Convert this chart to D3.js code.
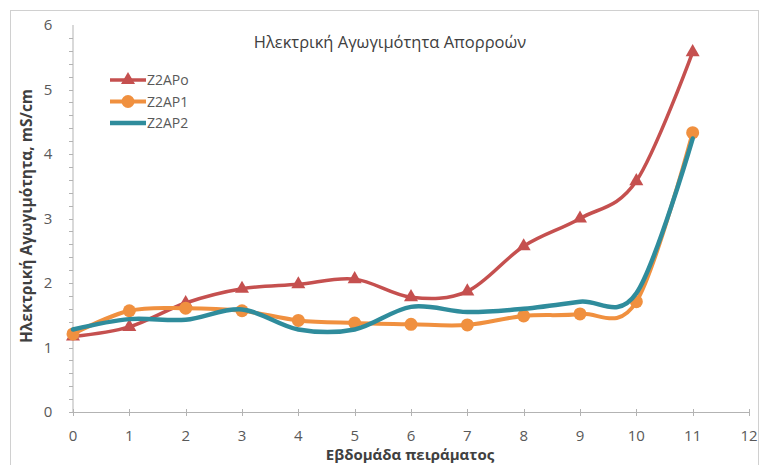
<!DOCTYPE html>
<html>
<head>
<meta charset="utf-8">
<script src="https://cdn.jsdelivr.net/npm/d3@7"></script>
<style>
  html, body { margin: 0; padding: 0; background: #fff; }
  svg { display: block; }
  text { font-family: "Open Sans", "Noto Sans", sans-serif; }
</style>
</head>
<body>
<svg id="chart" width="763" height="465"></svg>
<script>
// Weekly runoff electrical conductivity (mS/cm)
const weeks = [0, 1, 2, 3, 4, 5, 6, 7, 8, 9, 10, 11];
const z2apo = [1.17, 1.32, 1.69, 1.91, 1.98, 2.06, 1.78, 1.87, 2.57, 3.00, 3.58, 5.58];
const z2ap1 = [1.21, 1.57, 1.61, 1.57, 1.42, 1.38, 1.36, 1.35, 1.49, 1.52, 1.71, 4.33];
const z2ap2 = [1.28, 1.44, 1.43, 1.59, 1.28, 1.28, 1.63, 1.55, 1.60, 1.71, 1.84, 4.24];
const seriesNames = ["Z2APo", "Z2AP1", "Z2AP2"];
const xTicks = [0, 1, 2, 3, 4, 5, 6, 7, 8, 9, 10, 11, 12];
const yTicks = [0, 1, 2, 3, 4, 5, 6];

const title = "Ηλεκτρική Αγωγιμότητα Απορροών";
const xTitle = "Εβδομάδα πειράματος";
const yTitle = "Ηλεκτρική Αγωγιμότητα, mS/cm";

const svg = d3.select("#chart");
const plot = { left: 73, right: 749, top: 25, bottom: 412 };

const x = d3.scaleLinear().domain([0, 12]).range([plot.left, plot.right]);
const y = d3.scaleLinear().domain([0, 6]).range([plot.bottom, plot.top]);

const axisColor = "#b3b3b3";
const labelColor = "#595959";

// outer chart frame
svg.append("rect")
  .attr("x", 10.5).attr("y", 10.5)
  .attr("width", 748).attr("height", 470)
  .attr("fill", "#fff").attr("stroke", "#d0d0d0").attr("stroke-width", 1);

// y axis with minor ticks every 0.2
const yAxis = svg.append("g");
yAxis.append("line")
  .attr("x1", plot.left).attr("x2", plot.left)
  .attr("y1", y(6)).attr("y2", y(0))
  .attr("stroke", axisColor);
yAxis.selectAll("line.minor")
  .data(d3.range(0, 30).map(i => i * 0.2))
  .join("line").attr("class", "minor")
  .attr("x1", plot.left - 4).attr("x2", plot.left)
  .attr("y1", d => Math.round(y(d)) + 0.5).attr("y2", d => Math.round(y(d)) + 0.5)
  .attr("stroke", axisColor);
yAxis.selectAll("text")
  .data(yTicks)
  .join("text")
  .attr("x", 48)
  .attr("y", d => y(d))
  .attr("dy", "0.36em")
  .attr("text-anchor", "middle")
  .attr("font-size", 15)
  .attr("fill", labelColor)
  .text(d => d);

// x axis with crossing ticks
const xAxis = svg.append("g");
xAxis.append("line")
  .attr("x1", x(0)).attr("x2", x(12))
  .attr("y1", plot.bottom + 0.5).attr("y2", plot.bottom + 0.5)
  .attr("stroke", axisColor);
xAxis.selectAll("line.tick")
  .data(xTicks)
  .join("line").attr("class", "tick")
  .attr("x1", d => Math.round(x(d)) + 0.5).attr("x2", d => Math.round(x(d)) + 0.5)
  .attr("y1", plot.bottom - 3).attr("y2", plot.bottom + 4)
  .attr("stroke", axisColor);
xAxis.selectAll("text")
  .data(xTicks)
  .join("text")
  .attr("x", d => x(d))
  .attr("y", plot.bottom + 29)
  .attr("text-anchor", "middle")
  .attr("font-size", 15)
  .attr("fill", labelColor)
  .text(d => d);

// titles
svg.append("text")
  .attr("x", 390).attr("y", 48)
  .attr("text-anchor", "middle")
  .attr("font-size", 16.5)
  .attr("fill", "#404040")
  .text(title);
svg.append("text")
  .attr("x", 410).attr("y", 460)
  .attr("text-anchor", "middle")
  .attr("font-size", 15)
  .attr("font-weight", "bold")
  .attr("fill", "#404040")
  .text(xTitle);
svg.append("text")
  .attr("transform", "translate(32,216) rotate(-90)")
  .attr("text-anchor", "middle")
  .attr("font-size", 15.5)
  .attr("font-weight", "bold")
  .attr("fill", "#404040")
  .text(yTitle);

// series
const series = [
  { name: seriesNames[0], values: z2apo, color: "#c5504f", width: 3.5, marker: "triangle" },
  { name: seriesNames[1], values: z2ap1, color: "#f0903f", width: 4, marker: "circle" },
  { name: seriesNames[2], values: z2ap2, color: "#2f8c9c", width: 4.5, marker: "none" }
];

const line = d3.line()
  .x((d, i) => x(weeks[i]))
  .y(d => y(d))
  .curve(d3.curveCatmullRom.alpha(0));

const triangle = d3.symbol().type(d3.symbolTriangle).size(85);

function drawMarker(g, s, cx, cy) {
  if (s.marker === "triangle") {
    g.append("path")
      .attr("d", triangle())
      .attr("transform", `translate(${cx},${cy})`)
      .attr("fill", s.color);
  } else if (s.marker === "circle") {
    g.append("circle")
      .attr("cx", cx).attr("cy", cy).attr("r", 6.5)
      .attr("fill", s.color);
  }
}

series.forEach(s => {
  const g = svg.append("g");
  g.append("path")
    .datum(s.values)
    .attr("d", line)
    .attr("fill", "none")
    .attr("stroke", s.color)
    .attr("stroke-width", s.width)
    .attr("stroke-linejoin", "round")
    .attr("stroke-linecap", "round");
  s.values.forEach((v, i) => drawMarker(g, s, x(weeks[i]), y(v)));
});

// legend
const legend = svg.append("g");
series.forEach((s, i) => {
  const ly = 80 + i * 21.5;
  legend.append("line")
    .attr("x1", 110).attr("x2", 146)
    .attr("y1", ly).attr("y2", ly)
    .attr("stroke", s.color)
    .attr("stroke-width", s.width);
  drawMarker(legend, s, 128, ly);
  legend.append("text")
    .attr("x", 147).attr("y", ly)
    .attr("dy", "0.36em")
    .attr("font-size", 14)
    .attr("fill", labelColor)
    .text(s.name);
});
</script>
</body>
</html>
